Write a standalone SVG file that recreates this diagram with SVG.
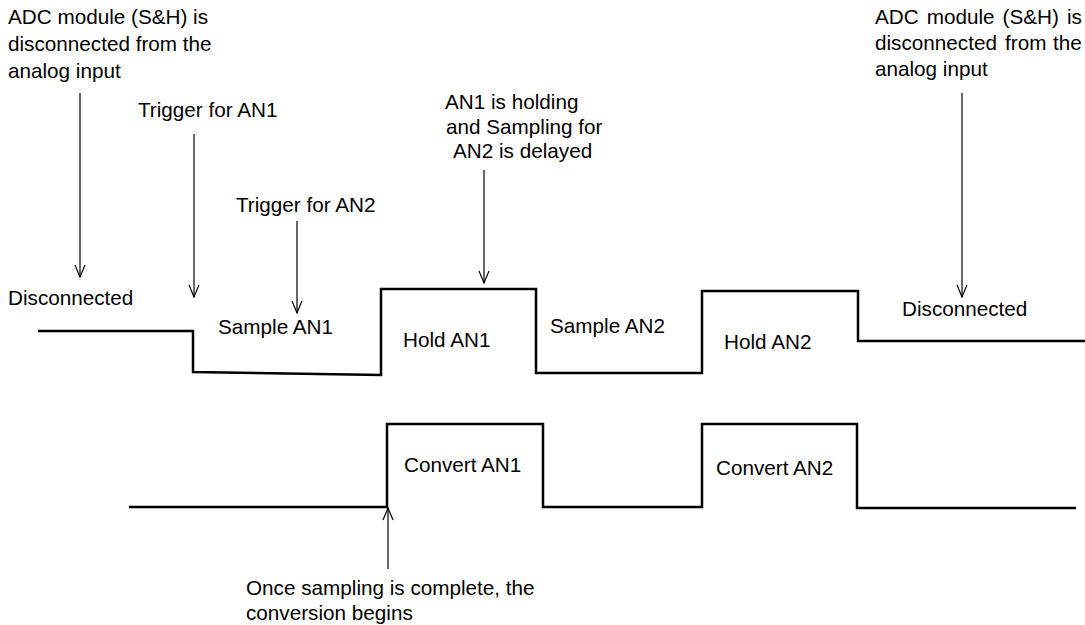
<svg xmlns="http://www.w3.org/2000/svg" width="1085" height="625" viewBox="0 0 1085 625">
<style>
text{font-family:"Liberation Sans",Arial,sans-serif;font-size:20.7px;fill:#000}
.wave{fill:none;stroke:#000;stroke-width:2.5;stroke-linejoin:miter}
.arr{fill:none;stroke:#000;stroke-width:1.2}
</style>
<defs>
<marker id="ah" markerUnits="userSpaceOnUse" markerWidth="14" markerHeight="12" refX="12" refY="5" orient="auto" overflow="visible">
<path d="M0,0 L12,5 L0,10" fill="none" stroke="#000" stroke-width="1.2"/>
</marker>
</defs>
<rect width="1085" height="625" fill="#fff"/>
<g id="waveforms">
<path id="sh-wave" class="wave" d="M38,331 H193 V372 L381,375 V289 H536 V373 H702 V291 H858 V341 H1085"/>
<path id="conv-wave" class="wave" d="M129,507 H387 V424 H543 V507 H702 V424 H857 V508 H1076"/>
</g>
<g id="connectors">
<line class="arr" x1="80" y1="93" x2="80" y2="277" marker-end="url(#ah)"/>
<line class="arr" x1="194" y1="134" x2="194" y2="297" marker-end="url(#ah)"/>
<line class="arr" x1="297" y1="221" x2="297" y2="313" marker-end="url(#ah)"/>
<line class="arr" x1="484" y1="170" x2="484" y2="283" marker-end="url(#ah)"/>
<line class="arr" x1="962" y1="93" x2="962" y2="297" marker-end="url(#ah)"/>
<line class="arr" x1="388" y1="569" x2="388" y2="508" marker-end="url(#ah)"/>
</g>
<g id="note-left">
<text x="8" y="24">ADC module (S&amp;H) is</text>
<text x="8" y="51">disconnected from the</text>
<text x="8" y="78">analog input</text>
</g>
<g id="trigger-an1"><text x="138" y="117">Trigger for AN1</text></g>
<g id="trigger-an2"><text x="236" y="212">Trigger for AN2</text></g>
<g id="disconnected-left"><text x="8" y="305">Disconnected</text></g>
<g id="sample-an1"><text x="218" y="334">Sample AN1</text></g>
<g id="note-holding">
<text x="445" y="109">AN1 is holding</text>
<text x="446" y="134">and Sampling for</text>
<text x="453" y="158">AN2 is delayed</text>
</g>
<g id="hold-an1"><text x="403" y="347">Hold AN1</text></g>
<g id="sample-an2"><text x="550" y="333">Sample AN2</text></g>
<g id="hold-an2"><text x="724" y="349">Hold AN2</text></g>
<g id="disconnected-right"><text x="902" y="316">Disconnected</text></g>
<g id="note-right">
<text y="24"><tspan x="875">ADC</tspan><tspan x="926.7">module</tspan><tspan x="1002.6">(S&amp;H)</tspan><tspan x="1067">is</tspan></text>
<text y="50"><tspan x="875">disconnected</tspan><tspan x="1005">from</tspan><tspan x="1053">the</tspan></text>
<text x="875" y="76">analog input</text>
</g>
<g id="convert-an1"><text x="404" y="472">Convert AN1</text></g>
<g id="convert-an2"><text x="716" y="475">Convert AN2</text></g>
<g id="note-conversion">
<text x="246" y="595">Once sampling is complete, the</text>
<text x="246" y="620">conversion begins</text>
</g>
</svg>
